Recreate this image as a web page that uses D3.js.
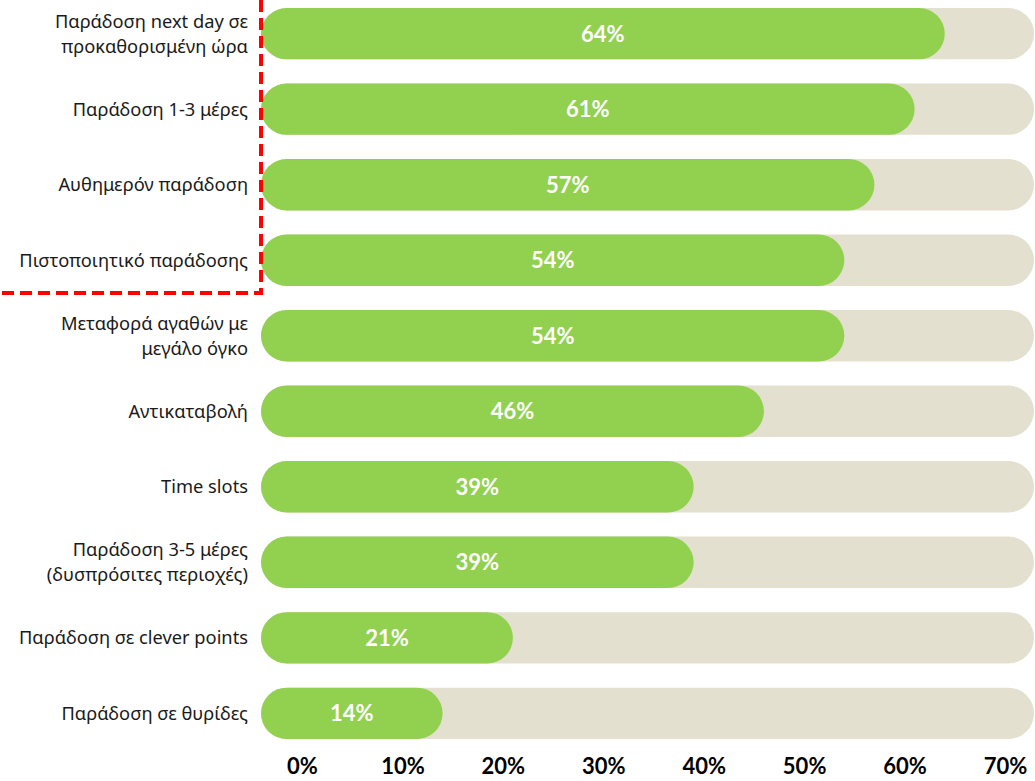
<!DOCTYPE html>
<html><head><meta charset="utf-8">
<script src="https://cdn.jsdelivr.net/npm/d3@7"></script>
<style>body{margin:0;background:#fff}svg{display:block}</style>
</head><body>
<svg id="c" width="1035" height="781"></svg>
<script>
const categories = [
  ["Παράδοση next day σε","προκαθορισμένη ώρα"],
  ["Παράδοση 1-3 μέρες"],
  ["Αυθημερόν παράδοση"],
  ["Πιστοποιητικό παράδοσης"],
  ["Μεταφορά αγαθών με","μεγάλο όγκο"],
  ["Αντικαταβολή"],
  ["Time slots"],
  ["Παράδοση 3-5 μέρες","(δυσπρόσιτες περιοχές)"],
  ["Παράδοση σε clever points"],
  ["Παράδοση σε θυρίδες"]
];
const values = [64, 61, 57, 54, 54, 46, 39, 39, 21, 14];
const ticks = [0, 10, 20, 30, 40, 50, 60, 70];

const svg = d3.select("#c");
const x = d3.scaleLinear().domain([0, 70]).range([302, 1005]);
const y = d3.scaleBand().domain(d3.range(values.length)).range([8, 739]).paddingInner(0.32).paddingOuter(0);
const left = 261, trackRight = 1034;
const h = y.bandwidth(), r = h / 2;

const rows = svg.selectAll("g.row").data(values).join("g").attr("class","row")
  .attr("transform", (d,i) => `translate(0,${y(i)})`);

rows.append("rect").attr("x", left).attr("y", 0).attr("width", trackRight - left).attr("height", h)
  .attr("rx", r).attr("fill", "#e3e0cf");
rows.append("rect").attr("x", left).attr("y", 0).attr("width", d => x(d) - left).attr("height", h)
  .attr("rx", r).attr("fill", "#92d050");
rows.append("text").attr("x", d => (left + x(d)) / 2).attr("y", h / 2).attr("dy", "0.36em")
  .attr("text-anchor", "middle").attr("fill", "#fff").attr("font-family", "Lato, 'Open Sans', sans-serif")
  .attr("font-weight", "bold").attr("font-size", 22).text(d => d + "%");

rows.append("text").attr("text-anchor", "end").attr("fill", "#1a1a1a")
  .attr("font-family", "'Noto Sans', 'Open Sans', sans-serif").attr("font-size", 18.3)
  .each(function(d, i) {
    const lines = categories[i];
    const t = d3.select(this);
    const lh = 25;
    lines.forEach((s, k) => {
      t.append("tspan").attr("x", 248).attr("y", h / 2 + (k - (lines.length - 1) / 2) * lh).attr("dy", "0.35em").text(s);
    });
  });

const axis = d3.axisBottom(x).tickValues(ticks).tickFormat(d => d + "%").tickSize(0).tickPadding(0);
const ag = svg.append("g").attr("transform", "translate(0,763)").call(axis);
ag.select(".domain").remove();
ag.selectAll("text").attr("font-family", "Lato, 'Open Sans', sans-serif").attr("font-weight", "bold")
  .attr("font-size", 22).attr("fill", "#000").attr("dy", "0.5em");

svg.append("path").attr("d", `M${left},0 V293 H0`).attr("fill", "none")
  .attr("stroke", "#ff0000").attr("stroke-width", 4).attr("stroke-dasharray", "12,6");
</script>
</body></html>
